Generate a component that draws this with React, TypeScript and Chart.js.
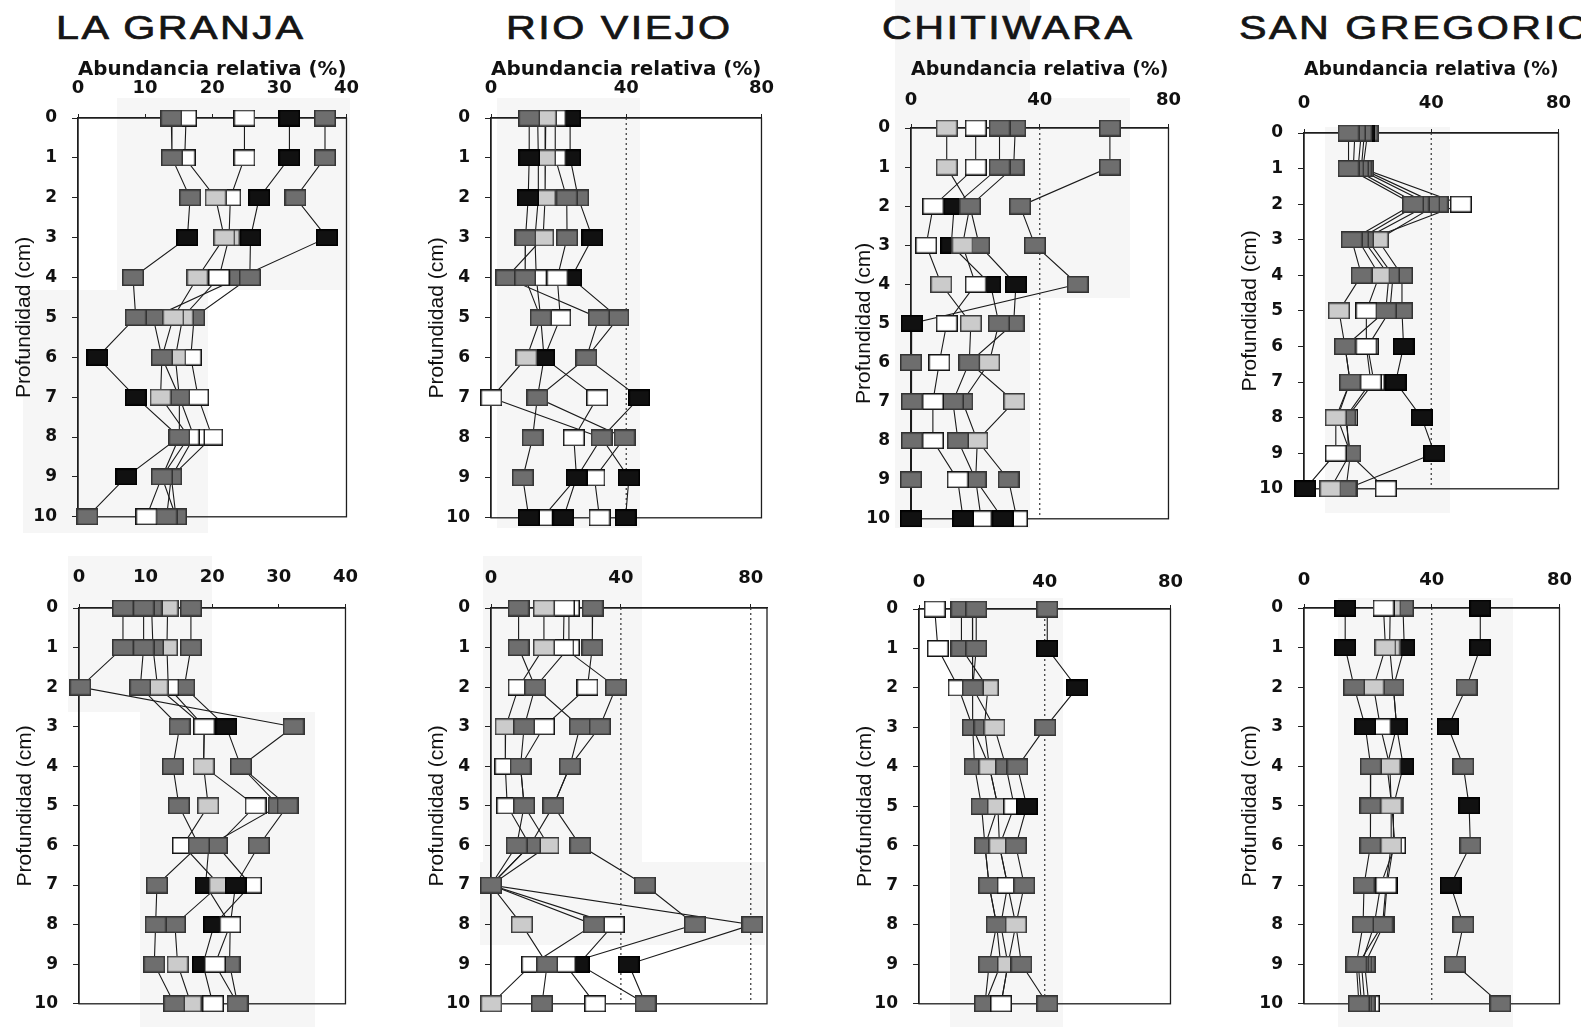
import { useEffect, useRef } from 'react';
import { Chart, registerables } from 'chart.js';

Chart.register(...registerables);

// ---------- shared axis values ----------
const depths = [0, 1, 2, 3, 4, 5, 6, 7, 8, 9, 10];
const ticksFine = [0, 10, 20, 30, 40];
const ticksWide = [0, 40, 80];
const siteTitles = ['LA GRANJA', 'RIO VIEJO', 'CHITIWARA', 'SAN GREGORIO'];
const xAxisTitle = 'Abundancia relativa (%)';
const yAxisTitle = 'Profundidad (cm)';

// ---------- LA GRANJA (top) ----------
const lgTop1 = [13.9, 14, 16.7, 16.3, 8.2, 8.6, 2.9, 8.6, 15.1, 7.2, 1.4];
const lgTop2 = [16.1, 15.9, 20.5, 21.8, 17.8, 14.2, 12.5, 12.3, 16.5, 12.5, 10.2];
const lgTop3 = [24.8, 24.8, 22.7, 22.5, 21, 15.6, 14.5, 15.1, 17.3, 13.9, 13.2];
const lgTop4 = [31.5, 31.5, 27, 25.7, 25.6, 17.3, 16.8, 17.9, 20, 13.9, 14.6];
const lgTop5 = [36.8, 36.8, 32.4, 37.1, 24.1, 11.2, 12.5, 15.1, 15.1, 12.5, 14.6];
const lgTopTones = ['gggkggkkgkg', 'wwllllglwgw', 'wwwlwllgwgg', 'kkkkggwwwgg', 'gggkggggggg'];

// ---------- RIO VIEJO (top) ----------
const rvTop1 = [11.3, 11.3, 11, 10.2, 10.1, 14.7, 10.5, 0.1, 32.7, 25.3, 21.4];
const rvTop2 = [16.2, 16, 16, 15.4, 4.5, 31.9, 28.2, 13.7, 12.3, 9.4, 11.2];
const rvTop3 = [19, 19, 22.4, 22.5, 19.6, 20.5, 15.7, 13.7, 39.5, 30.6, 32.1];
const rvTop4 = [23.4, 23.4, 25.8, 30, 23.7, 37.7, 28.2, 43.9, 32.7, 40.8, 39.8];
const rvTop5 = [13.8, 14, 14, 13, 13.4, 14.7, 15.7, 31.4, 24.5, 25.3, 15.2];
const rvTopTones = ['gkkggglwgkk', 'llllggggggk', 'wwggwwkggww', 'kkgkkggkgkk', 'gwwlwgkwwkw'];

// ---------- CHITIWARA (top) ----------
const chTop1 = [61.8, 61.8, 33.9, 38.5, 51.8, 0.2, 0, 0.3, 0.3, 0, 0];
const chTop2 = [11.1, 11.1, 18.3, 16, 20.1, 11.1, 8.8, 6.8, 6.8, 14.5, 16.2];
const chTop3 = [20.1, 20.1, 6.9, 4.7, 9.4, 18.6, 18.1, 13, 14.6, 20.1, 21.8];
const chTop4 = [27.5, 27.5, 13.4, 12.5, 24.7, 27.3, 24.3, 16, 20.6, 20.1, 28.5];
const chTop5 = [32.4, 31.9, 18.3, 21.2, 32.6, 31.9, 18.1, 32.1, 20.6, 30.3, 32.9];
const chTopTones = ['gggggkggggk', 'llglwwwwwwk', 'wwwwllggggw', 'ggkkkglglgk', 'ggggkggllgw'];

// ---------- SAN GREGORIO (top) ----------
const sgTop1 = [14, 14, 34.3, 15, 18.1, 11, 12.9, 14.5, 10, 10, 0.4];
const sgTop2 = [16, 15.5, 36, 17, 23.7, 19.6, 19.6, 21, 13, 14.6, 8.3];
const sgTop3 = [18, 17, 39.4, 18.6, 26.7, 25.7, 12.9, 14.5, 10.5, 14.6, 13.2];
const sgTop4 = [19, 18, 42, 23.2, 30.8, 30.8, 31.3, 28.8, 37, 41, 13.5];
const sgTop5 = [20, 18.5, 49.3, 20, 28, 27, 20, 22, 13.5, 14, 25.7];
const sgTopTones = ['ggggglgglwk', 'gggglwwwggl', 'ggggggggggg', 'kgglggkkkkg', 'ggwgggwwwgw'];

// ---------- LA GRANJA (bottom) ----------
const lgBot1 = [6.6, 6.6, 0.2, 32.2, 24.3, 31.3, 27, 23.5, 22.7, 20.4, 23.8];
const lgBot2 = [9.7, 9.7, 9.2, 15.1, 14.1, 15, 18, 11.7, 11.5, 11.3, 14.3];
const lgBot3 = [10.9, 11.1, 11.8, 18.8, 18.7, 19.4, 15.6, 21.1, 14.4, 14.8, 16.8];
const lgBot4 = [13.3, 13.2, 13.4, 18.8, 18.7, 26.5, 20.7, 25.8, 20.3, 18.6, 20.1];
const lgBot5 = [16.8, 16.8, 15.8, 22.1, 24.3, 30, 19.5, 19, 22.7, 22.6, 23.8];
const lgBotTones = ['gggggggkwwg', 'ggggggggggg', 'gglwllwlgll', 'llwwlwgwkkw', 'gggkgggkwgg'];

// ---------- RIO VIEJO (bottom) ----------
const rvBot1 = [8.5, 8.5, 13.6, 10.2, 9.1, 10.2, 7.9, 0, 9.5, 17.3, 15.7];
const rvBot2 = [16.3, 16.3, 8.5, 4.5, 4.4, 5, 12, 0, 31.7, 12.7, 0.1];
const rvBot3 = [22.5, 22.3, 38.5, 33.5, 24.3, 19.2, 27.5, 47.4, 62.8, 22.8, 32.1];
const rvBot4 = [31.3, 31.2, 29.7, 16.3, 9.1, 10.2, 17.7, 0, 37.8, 27, 47.6];
const rvBot5 = [24, 24, 13.6, 27.4, 24.3, 19.2, 12, 0, 80.5, 42.4, 47.6];
const rvBotTones = ['gggggggglgg', 'llwlwwgggwl', 'wwgggggggww', 'ggwwgglgwkg', 'wwgggggggkg'];

// ---------- CHITIWARA (bottom) ----------
const chBot1 = [40.8, 40.8, 50.3, 40.2, 31.3, 34.3, 30.8, 33.5, 30.8, 32.6, 40.8];
const chBot2 = [18.2, 18.2, 17.1, 24, 27.7, 30.3, 25.6, 28.2, 30.8, 28.3, 26.1];
const chBot3 = [13.5, 13.5, 21.9, 20.8, 22.4, 25.1, 21, 22.3, 24.7, 22.3, 21];
const chBot4 = [17, 17, 17.1, 17.1, 17.7, 19.9, 21, 22.3, 24.7, 26, 21];
const chBot5 = [5, 6, 12.6, 17.1, 22.4, 25.1, 25.6, 28.2, 26, 28.3, 26.1];
const chBotTones = ['gkkggkgglgg', 'ggglgwlwllw', 'gglgllggggg', 'ggggggggggg', 'wwwglllwllw'];

// ---------- SAN GREGORIO (bottom) ----------
const sgBot1 = [55.2, 55.2, 50.9, 45.1, 49.9, 51.7, 52.1, 45.9, 49.9, 47.3, 61.5];
const sgBot2 = [12.9, 12.9, 15.7, 19.2, 20.9, 20.8, 20.8, 18.8, 18.5, 16.4, 17.2];
const sgBot3 = [24.9, 25.5, 21.8, 23.9, 26.9, 27.3, 27.3, 25.7, 24.6, 17, 18];
const sgBot4 = [27, 26.8, 28, 29, 26, 27.5, 28.5, 24, 22, 18, 19];
const sgBot5 = [31, 31.4, 28, 29, 31.1, 28, 28, 26, 25, 19, 20.3];
const sgBotTones = ['kkgkgkgkggg', 'kkgkggggggg', 'wllwlllwggg', 'llgkllwgggg', 'gkgkklwkggw'];

// ---------- layout ----------
type Panel = {
  series: number[][];
  tones: string[];
  xMax: number;
  xTicks: number[];
  refs: number[];
  l: number; t: number; r: number; b: number;
  xTitle: boolean;
  xTitlePad: number;
  yTitlePad: number;
  tickPad: number;
};

const panels: Panel[] = [
  { series: [lgTop1, lgTop2, lgTop3, lgTop4, lgTop5], tones: lgTopTones, xMax: 40, xTicks: ticksFine, refs: [],
    l: 78, t: 118, r: 352, b: 528, xTitle: true, xTitlePad: 20, yTitlePad: 12, tickPad: 15 },
  { series: [rvTop1, rvTop2, rvTop3, rvTop4, rvTop5], tones: rvTopTones, xMax: 80, xTicks: ticksWide, refs: [40],
    l: 491, t: 118, r: 767, b: 529, xTitle: true, xTitlePad: 20, yTitlePad: 12, tickPad: 15 },
  { series: [chTop1, chTop2, chTop3, chTop4, chTop5], tones: chTopTones, xMax: 80, xTicks: ticksWide, refs: [40],
    l: 911, t: 128, r: 1172, b: 530, xTitle: true, xTitlePad: 10, yTitlePad: 19, tickPad: 13 },
  { series: [sgTop1, sgTop2, sgTop3, sgTop4, sgTop5], tones: sgTopTones, xMax: 80, xTicks: ticksWide, refs: [40],
    l: 1304, t: 133, r: 1564, b: 500, xTitle: true, xTitlePad: 5, yTitlePad: 12, tickPad: 15 },
  { series: [lgBot1, lgBot2, lgBot3, lgBot4, lgBot5], tones: lgBotTones, xMax: 40, xTicks: ticksFine, refs: [],
    l: 79, t: 608, r: 352, b: 1015, xTitle: false, xTitlePad: 0, yTitlePad: 12, tickPad: 16 },
  { series: [rvBot1, rvBot2, rvBot3, rvBot4, rvBot5], tones: rvBotTones, xMax: 85, xTicks: ticksWide, refs: [40, 80],
    l: 491, t: 608, r: 767, b: 1015, xTitle: false, xTitlePad: 0, yTitlePad: 12, tickPad: 15 },
  { series: [chBot1, chBot2, chBot3, chBot4, chBot5], tones: chBotTones, xMax: 80, xTicks: ticksWide, refs: [40],
    l: 919, t: 609, r: 1173, b: 1015, xTitle: false, xTitlePad: 0, yTitlePad: 12, tickPad: 12 },
  { series: [sgBot1, sgBot2, sgBot3, sgBot4, sgBot5], tones: sgBotTones, xMax: 80, xTicks: ticksWide, refs: [40],
    l: 1304, t: 608, r: 1563, b: 1015, xTitle: false, xTitlePad: 0, yTitlePad: 12, tickPad: 13 },
];

const titlePos = [56, 506, 882, 1239];

// faint grey scan patches behind the panels: [left, top, width, height]
const scanPatches = [
  [117, 98, 233, 192], [23, 290, 185, 243],
  [497, 98, 143, 430],
  [895, 0, 135, 528], [1030, 98, 100, 200],
  [1325, 127, 125, 386],
  [68, 556, 144, 156], [140, 712, 175, 315],
  [483, 556, 159, 306], [480, 862, 285, 83],
  [950, 598, 113, 429],
  [1338, 598, 175, 429],
];

const YW = 78; // canvas left edge -> plot left
const XH = 80; // canvas top edge -> plot top
const PR = 22;
const PB = 14;
const MW = 22;
const MH = 17;

const toneStyle: Record<string, [string, string]> = {
  g: ['#6e6e6e', '#333333'],
  l: ['#cbcbcb', '#3a3a3a'],
  w: ['#ffffff', '#151515'],
  k: ['#111111', '#000000'],
};

function makeMarker(fill: string, stroke: string): HTMLCanvasElement {
  const c = document.createElement('canvas');
  c.width = MW;
  c.height = MH;
  const ctx = c.getContext('2d')!;
  ctx.fillStyle = fill;
  ctx.fillRect(0, 0, MW, MH);
  ctx.strokeStyle = stroke;
  ctx.lineWidth = 1.5;
  ctx.strokeRect(0.75, 0.75, MW - 1.5, MH - 1.5);
  return c;
}

function PanelChart({ p }: { p: Panel }) {
  const ref = useRef<HTMLCanvasElement>(null);
  const w = p.r - p.l + YW + PR;
  const h = p.b - p.t + XH + PB;

  useEffect(() => {
    if (!ref.current) return;
    const markers: Record<string, HTMLCanvasElement> = {};
    Object.keys(toneStyle).forEach((k) => {
      markers[k] = makeMarker(toneStyle[k][0], toneStyle[k][1]);
    });

    const lineSets = p.series.map((s) => ({
      data: s.map((v, i) => ({ x: v, y: depths[i] })),
      showLine: true,
      borderColor: '#1a1a1a',
      borderWidth: 1.1,
      pointRadius: 0,
      order: 2,
      clip: false as const,
    }));
    const pointSets = p.series.map((s, k) => ({
      data: s.map((v, i) => ({ x: v, y: depths[i] })),
      showLine: false,
      pointStyle: p.tones[k].split('').map((c) => markers[c]),
      pointRadius: 10,
      order: 1,
      clip: false as const,
    }));

    const framePlugin = {
      id: 'frameAndRefs',
      beforeDatasetsDraw(chart: any) {
        const { ctx, chartArea } = chart;
        const { left, top, right, bottom } = chartArea;
        ctx.save();
        ctx.strokeStyle = '#1e1e1e';
        ctx.lineWidth = 1.3;
        ctx.strokeRect(left, top, right - left, bottom - top);
        ctx.setLineDash([2, 3]);
        ctx.lineWidth = 1.2;
        ctx.strokeStyle = '#333';
        p.refs.forEach((v) => {
          const x = chart.scales.x.getPixelForValue(v);
          ctx.beginPath();
          ctx.moveTo(x, top);
          ctx.lineTo(x, bottom);
          ctx.stroke();
        });
        ctx.restore();
      },
    };

    const chart = new Chart(ref.current, {
      type: 'scatter',
      data: { datasets: [...lineSets, ...pointSets] as any },
      plugins: [framePlugin],
      options: {
        animation: false,
        responsive: false,
        events: [],
        layout: { padding: { left: 0, top: 0, right: PR, bottom: PB }, autoPadding: false } as any,
        plugins: {
          legend: { display: false },
          tooltip: { enabled: false },
          title: { display: false },
        },
        scales: {
          x: {
            type: 'linear',
            position: 'top',
            min: 0,
            max: p.xMax,
            afterBuildTicks: (s: any) => {
              s.ticks = p.xTicks.map((v) => ({ value: v }));
            },
            afterFit: (s: any) => {
              s.height = XH;
            },
            grid: { drawOnChartArea: false, drawTicks: true, tickLength: 4, color: '#222' },
            border: { display: true, color: '#1e1e1e', width: 1.3 },
            ticks: {
              padding: p.tickPad,
              color: '#111',
              maxRotation: 0,
              autoSkip: false,
              font: { family: 'DejaVu Sans', size: 18, weight: 'bold' },
            },
            title: {
              display: p.xTitle,
              text: xAxisTitle,
              padding: p.xTitlePad,
              color: '#111',
              font: { family: 'DejaVu Sans', size: 20, weight: 'bold' },
            },
          },
          y: {
            type: 'linear',
            position: 'left',
            reverse: true,
            min: 0,
            max: 10,
            afterBuildTicks: (s: any) => {
              s.ticks = depths.map((v) => ({ value: v }));
            },
            afterFit: (s: any) => {
              s.width = YW;
            },
            grid: { drawOnChartArea: false, drawTicks: true, tickLength: 6, color: '#222' },
            border: { display: true, color: '#1e1e1e', width: 1.3 },
            ticks: {
              padding: 15,
              color: '#111',
              autoSkip: false,
              font: { family: 'DejaVu Sans', size: 17, weight: 'bold' },
            },
            title: {
              display: true,
              text: yAxisTitle,
              padding: p.yTitlePad,
              color: '#111',
              font: { family: 'Liberation Sans', size: 21 },
            },
          },
        },
      } as any,
    });
    return () => chart.destroy();
  }, []);

  return (
    <canvas
      ref={ref}
      width={w}
      height={h}
      style={{ position: 'absolute', left: p.l - YW, top: p.t - XH, width: w, height: h }}
    />
  );
}

export default function App() {
  useEffect(() => {
    document.body.style.overflow = 'hidden';
  }, []);
  return (
    <div
      style={{
        position: 'absolute',
        left: 0,
        top: 0,
        width: 1581,
        height: 1027,
        overflow: 'hidden',
        background: '#ffffff',
      }}
    >
      {scanPatches.map((s, i) => (
        <div
          key={'p' + i}
          style={{ position: 'absolute', left: s[0], top: s[1], width: s[2], height: s[3], background: '#f6f6f6' }}
        />
      ))}
      {siteTitles.map((t, i) => (
        <div
          key={t}
          style={{
            position: 'absolute',
            left: titlePos[i],
            top: 11,
            fontFamily: '"Liberation Sans", Arial, sans-serif',
            fontSize: 33,
            lineHeight: '33px',
            letterSpacing: '2px',
            color: '#151515',
            whiteSpace: 'nowrap',
            transform: 'scaleX(1.25)',
            transformOrigin: 'left top',
            WebkitTextStroke: '0.7px #151515',
          }}
        >
          {t}
        </div>
      ))}
      {panels.map((p, i) => (
        <PanelChart key={i} p={p} />
      ))}
    </div>
  );
}
